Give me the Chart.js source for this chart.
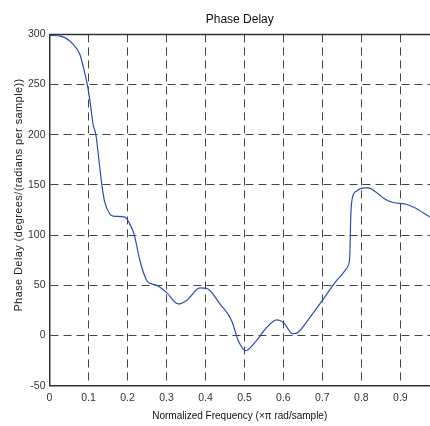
<!DOCTYPE html>
<html>
<head>
<meta charset="utf-8">
<script src="https://cdn.jsdelivr.net/npm/chart.js@4"></script>
<style>
  html, body { margin: 0; padding: 0; background: #fff; }
  #wrap { width: 430px; height: 426px; }
</style>
</head>
<body>
<div id="wrap"><canvas id="myChart" width="430" height="426"></canvas></div>
<script>
// normalized frequency (x pi rad/sample) and phase delay values
const freq = [0, 0.03, 0.061, 0.078, 0.087, 0.097, 0.104, 0.112, 0.119, 0.125,
  0.134, 0.141, 0.155, 0.164, 0.194, 0.206, 0.217, 0.232, 0.249, 0.258,
  0.275, 0.300, 0.330, 0.352, 0.386, 0.403, 0.437, 0.467, 0.484, 0.503,
  0.531, 0.557, 0.583, 0.600, 0.624, 0.638, 0.668, 0.700, 0.736, 0.758,
  0.766, 0.770, 0.773, 0.777, 0.788, 0.805, 0.817, 0.839, 0.860, 0.882,
  0.912, 0.933, 0.976];
const phaseDelay = [299, 298, 290, 280, 267, 250, 233, 210, 200, 181,
  151, 134, 121, 119, 118, 111, 101, 74.5, 55, 52,
  50, 43, 31.5, 35, 47.4, 47, 31.5, 15, -5, -15,
  -5, 8, 15.6, 13, 1.7, 3.3, 18, 35, 54.6, 64.6,
  69.6, 78, 121, 137.5, 144, 147, 147, 142.5, 136, 132.5,
  131, 128, 118];

const chartTitle = 'Phase Delay';
const xLabel = 'Normalized Frequency (\u00d7\u03c0 rad/sample)';
const yLabel = 'Phase Delay (degrees/(radians per sample))';

const fontFam = '"Liberation Sans Narrow", "Liberation Sans", Arial, sans-serif';
const gridCol = '#444';

// y label with letter spacing, plus the top frame line
const framePlugin = {
  id: 'frame',
  afterDraw(chart) {
    const c = chart.ctx, a = chart.chartArea;
    c.save();
    c.strokeStyle = '#333';
    c.lineWidth = 1.5;
    c.beginPath();
    c.moveTo(a.left, a.top);
    c.lineTo(a.right, a.top);
    c.stroke();
    c.translate(19, 195);
    c.rotate(-Math.PI / 2);
    c.font = '11px ' + fontFam;
    c.letterSpacing = '0.4px';
    c.fillStyle = '#222';
    c.textAlign = 'center';
    c.textBaseline = 'middle';
    c.fillText(yLabel, 0, 0);
    c.restore();
  }
};

const points = freq.map((f, i) => ({ x: f, y: phaseDelay[i] }));

new Chart(document.getElementById('myChart'), {
  type: 'line',
  data: {
    datasets: [{
      data: points,
      borderColor: '#2a4db5',
      borderWidth: 1.2,
      pointRadius: 0,
      fill: false,
      cubicInterpolationMode: 'monotone'
    }]
  },
  options: {
    responsive: false,
    animation: false,
    layout: { padding: 0 },
    plugins: {
      legend: { display: false },
      tooltip: { enabled: false },
      title: {
        display: true,
        text: chartTitle,
        fullSize: false,
        color: '#111',
        font: { size: 12, family: fontFam, weight: 'normal' },
        padding: { top: 12, bottom: 8 }
      }
    },
    scales: {
      x: {
        type: 'linear',
        min: 0,
        max: 0.976,
        afterFit: (s) => { s.height = 40.3; },
        ticks: {
          stepSize: 0.1,
          includeBounds: false,
          padding: 6,
          color: '#333',
          font: { size: 10.5, family: fontFam },
          callback: (v) => Math.round(v * 10) / 10
        },
        grid: {
          color: gridCol,
          lineWidth: 1,
          drawTicks: false
        },
        border: { display: true, color: '#333', width: 1.5, dash: [8, 5] },
        title: {
          display: true,
          text: xLabel,
          color: '#111',
          font: { size: 10, family: fontFam },
          padding: { top: 0, bottom: 4 }
        }
      },
      y: {
        min: -50,
        max: 300,
        afterFit: (s) => { s.width = 49.5; },
        ticks: {
          stepSize: 50,
          padding: 4,
          color: '#333',
          font: { size: 10.5, family: fontFam }
        },
        grid: {
          color: gridCol,
          lineWidth: 1,
          drawTicks: false
        },
        border: { display: true, color: '#333', width: 1.5, dash: [8, 5] }
      }
    }
  },
  plugins: [framePlugin]
});
</script>
</body>
</html>
